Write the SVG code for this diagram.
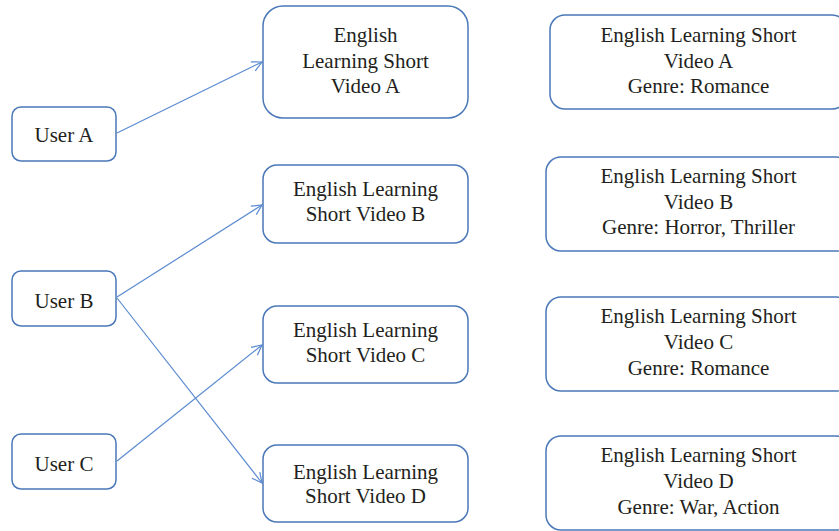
<svg xmlns="http://www.w3.org/2000/svg" width="839" height="531" viewBox="0 0 839 531">
  <style>
    .box { fill: #ffffff; stroke: #4a78b8; stroke-width: 1.5; }
    .lbl { font-family: "Liberation Serif", "Times New Roman", serif; font-size: 21px; fill: #231f20; text-anchor: middle; }
    .edge { fill: none; stroke: #5a8ad0; stroke-width: 1.2; marker-end: url(#arrow); }
  </style>
  <defs>
    <marker id="arrow" viewBox="0 0 12 12" refX="11" refY="6" markerWidth="12" markerHeight="12" markerUnits="userSpaceOnUse" orient="auto">
      <path d="M1,1 L11,6 L1,11" fill="none" stroke="#5a8ad0" stroke-width="1.2"/>
    </marker>
  </defs>
  <rect width="839" height="531" fill="#ffffff"/>

  <!-- connectors -->
  <g id="connectors">
    <line class="edge" x1="117" y1="133" x2="262" y2="62"/>
    <line class="edge" x1="117" y1="297" x2="262" y2="205"/>
    <line class="edge" x1="117" y1="298" x2="262" y2="483"/>
    <line class="edge" x1="117" y1="461" x2="262" y2="345"/>
  </g>

  <!-- users -->
  <g id="userA">
    <rect class="box" x="12" y="107" width="104" height="54" rx="9"/>
    <text class="lbl" x="64" y="142">User A</text>
  </g>
  <g id="userB">
    <rect class="box" x="12" y="271" width="104" height="55" rx="9"/>
    <text class="lbl" x="64" y="308">User B</text>
  </g>
  <g id="userC">
    <rect class="box" x="12" y="434" width="104" height="55" rx="9"/>
    <text class="lbl" x="64" y="471">User C</text>
  </g>

  <!-- videos -->
  <g id="videoA">
    <rect class="box" x="263" y="6" width="205" height="112" rx="20"/>
    <text class="lbl" x="365.5" y="42">English</text>
    <text class="lbl" x="365.5" y="67.5">Learning Short</text>
    <text class="lbl" x="365.5" y="93">Video A</text>
  </g>
  <g id="videoB">
    <rect class="box" x="263" y="165" width="205" height="78" rx="14"/>
    <text class="lbl" x="365.5" y="196">English Learning</text>
    <text class="lbl" x="365.5" y="221">Short Video B</text>
  </g>
  <g id="videoC">
    <rect class="box" x="263" y="306" width="205" height="77" rx="14"/>
    <text class="lbl" x="365.5" y="337">English Learning</text>
    <text class="lbl" x="365.5" y="362">Short Video C</text>
  </g>
  <g id="videoD">
    <rect class="box" x="263" y="445" width="205" height="77" rx="14"/>
    <text class="lbl" x="365.5" y="479">English Learning</text>
    <text class="lbl" x="365.5" y="503">Short Video D</text>
  </g>

  <!-- genre cards -->
  <g id="genreA">
    <rect class="box" x="550" y="15" width="297" height="94" rx="15"/>
    <text class="lbl" x="698.5" y="42">English Learning Short</text>
    <text class="lbl" x="698.5" y="67.5">Video A</text>
    <text class="lbl" x="698.5" y="93">Genre: Romance</text>
  </g>
  <g id="genreB">
    <rect class="box" x="546" y="157" width="305" height="94" rx="15"/>
    <text class="lbl" x="698.5" y="183">English Learning Short</text>
    <text class="lbl" x="698.5" y="208.5">Video B</text>
    <text class="lbl" x="698.5" y="234">Genre: Horror, Thriller</text>
  </g>
  <g id="genreC">
    <rect class="box" x="546" y="297" width="305" height="94" rx="15"/>
    <text class="lbl" x="698.5" y="323">English Learning Short</text>
    <text class="lbl" x="698.5" y="349">Video C</text>
    <text class="lbl" x="698.5" y="375">Genre: Romance</text>
  </g>
  <g id="genreD">
    <rect class="box" x="546" y="436" width="305" height="94" rx="15"/>
    <text class="lbl" x="698.5" y="462">English Learning Short</text>
    <text class="lbl" x="698.5" y="488">Video D</text>
    <text class="lbl" x="698.5" y="514">Genre: War, Action</text>
  </g>
</svg>
